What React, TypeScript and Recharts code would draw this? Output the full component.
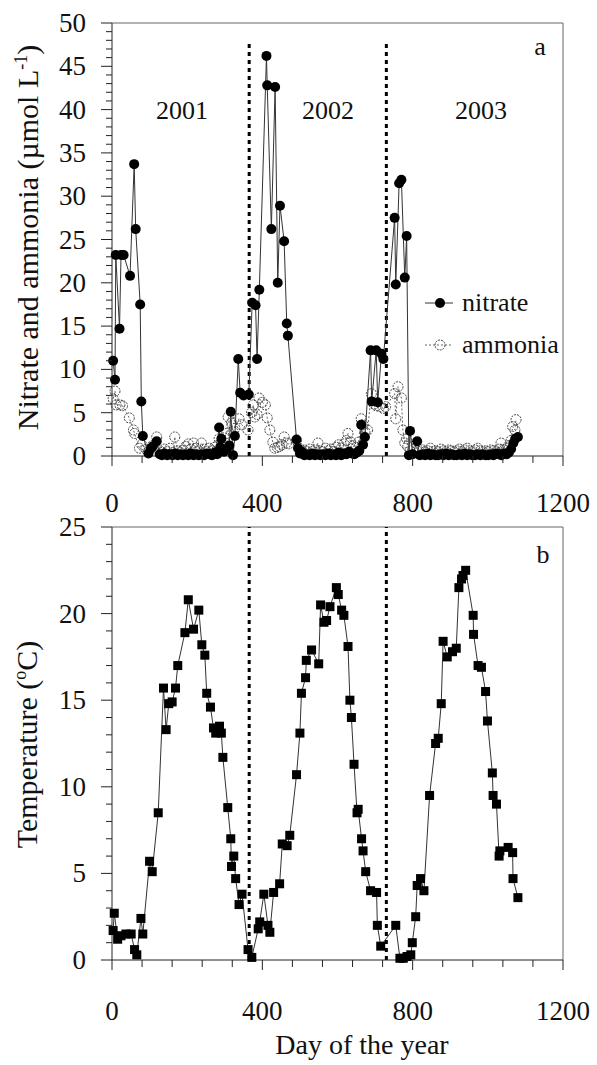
import React from 'react';
import { LineChart, Line, XAxis, YAxis, ReferenceLine, Legend } from 'recharts';

const FONT = '"Liberation Serif", "Times New Roman", serif';

// [day, µmol/L]
const nitratePoints: [number, number][] = [
  [3, 11.0], [8, 8.8], [10, 23.2], [20, 14.7], [24, 23.2], [31, 23.2], [48, 20.8], [59, 33.7],
  [63, 26.2], [75, 17.5], [78, 6.3], [82, 2.3], [97, 0.3], [104, 0.9], [108, 1.1], [119, 1.7],
  [127, 0.2], [133, 0.1], [140, 0.3], [147, 0.1], [154, 0.2], [161, 0.1], [168, 0.3], [175, 0.1],
  [182, 0.2], [189, 0.1], [196, 0.2], [203, 0.1], [210, 0.3], [217, 0.1], [224, 0.2], [231, 0.1],
  [238, 0.2], [245, 0.1], [252, 0.3], [259, 0.2], [266, 0.1], [273, 0.4], [280, 0.2], [285, 3.3],
  [288, 1.0], [291, 2.0], [298, 0.5], [305, 0.8], [312, 1.2], [316, 5.1], [322, 0.1], [327, 2.3],
  [336, 11.2], [341, 7.3], [350, 7.0], [364, 7.1], [373, 17.7], [382, 17.4], [386, 11.2], [392, 19.2],
  [411, 46.2], [413, 42.8], [424, 26.2], [434, 42.6], [441, 20.0], [447, 28.9], [458, 24.8], [465, 15.3],
  [468, 13.9], [491, 1.9], [495, 0.9], [500, 0.3], [505, 0.5], [512, 0.1], [519, 0.2], [526, 0.1],
  [533, 0.3], [540, 0.1], [547, 0.2], [554, 0.1], [561, 0.2], [568, 0.1], [575, 0.3], [582, 0.1],
  [589, 0.2], [596, 0.1], [603, 0.4], [610, 0.1], [617, 0.3], [624, 0.2], [631, 0.5], [638, 0.3],
  [645, 0.2], [652, 0.4], [658, 0.6], [663, 3.6], [668, 1.3], [673, 2.2], [688, 12.2], [691, 6.3],
  [703, 12.2], [707, 6.2], [717, 11.8], [722, 11.2], [752, 27.5], [755, 19.8], [764, 31.5], [770, 31.9],
  [779, 20.6], [784, 25.4], [790, 0.1], [793, 2.9], [800, 0.2], [812, 1.7], [819, 0.1], [826, 0.2],
  [833, 0.1], [840, 0.3], [847, 0.1], [854, 0.2], [861, 0.1], [868, 0.1], [875, 0.2], [882, 0.1],
  [889, 0.3], [896, 0.1], [903, 0.2], [910, 0.1], [917, 0.1], [924, 0.2], [931, 0.1], [938, 0.3],
  [945, 0.1], [952, 0.2], [959, 0.1], [966, 0.1], [973, 0.2], [980, 0.1], [987, 0.2], [994, 0.1],
  [1001, 0.1], [1008, 0.2], [1015, 0.1], [1022, 0.3], [1029, 0.2], [1036, 0.1], [1043, 0.3], [1050, 0.2],
  [1056, 0.4], [1062, 0.8], [1068, 1.5], [1073, 2.0], [1080, 2.2],
];

const ammoniaPoints: [number, number][] = [
  [3, 6.6], [8, 7.5], [11, 5.9], [21, 5.9], [28, 5.8], [46, 4.4], [57, 3.0], [60, 2.6],
  [73, 0.9], [79, 1.3], [90, 0.8], [97, 0.5], [108, 1.2], [119, 2.2], [127, 0.6], [133, 0.4],
  [140, 0.8], [147, 0.5], [154, 0.9], [161, 0.4], [167, 2.2], [175, 0.6], [182, 0.4], [189, 0.7],
  [196, 1.1], [203, 1.4], [210, 0.8], [217, 1.5], [224, 0.9], [231, 0.6], [238, 1.5], [245, 0.8],
  [252, 0.5], [259, 0.9], [266, 0.6], [273, 1.0], [280, 1.2], [285, 2.0], [291, 1.5], [298, 2.1],
  [305, 2.6], [309, 4.5], [318, 3.8], [322, 2.8], [327, 3.2], [338, 4.3], [345, 3.6], [362, 3.0],
  [371, 5.0], [376, 5.9], [380, 4.5], [386, 4.8], [391, 6.7], [400, 6.2], [408, 5.9], [413, 4.4],
  [420, 3.0], [428, 1.6], [433, 0.9], [440, 1.0], [446, 1.1], [452, 1.3], [458, 2.2], [464, 1.5],
  [470, 1.4], [491, 1.8], [498, 0.9], [505, 0.6], [512, 0.7], [519, 0.5], [526, 0.8], [533, 0.5],
  [540, 0.7], [548, 1.5], [554, 0.6], [561, 0.5], [568, 0.9], [575, 0.6], [582, 0.8], [589, 0.5],
  [596, 1.0], [603, 1.3], [610, 0.9], [617, 1.4], [624, 1.8], [628, 2.6], [635, 1.6], [642, 1.2],
  [649, 1.0], [656, 1.6], [663, 4.3], [668, 3.6], [673, 2.8], [680, 3.0], [690, 7.2], [697, 6.0],
  [703, 5.8], [712, 5.7], [722, 5.5], [728, 5.7], [752, 7.2], [755, 4.3], [761, 8.0], [770, 6.7],
  [774, 3.0], [779, 1.5], [784, 2.0], [787, 1.1], [793, 0.6], [800, 0.7], [812, 0.6], [819, 0.5],
  [826, 0.7], [833, 0.5], [840, 0.6], [847, 0.9], [854, 0.5], [861, 0.6], [868, 0.5], [875, 0.8],
  [882, 0.6], [889, 0.5], [896, 0.7], [903, 0.6], [910, 0.5], [917, 0.6], [924, 0.8], [931, 0.5],
  [938, 0.7], [945, 0.9], [952, 0.6], [959, 0.5], [966, 0.7], [973, 0.9], [980, 0.6], [987, 0.5],
  [994, 0.6], [1001, 0.5], [1008, 0.7], [1015, 0.6], [1022, 0.5], [1029, 0.8], [1035, 1.5], [1043, 0.7],
  [1050, 0.9], [1056, 1.2], [1062, 1.8], [1066, 3.4], [1072, 3.0], [1075, 4.2],
];

// [day, °C]
const temperaturePoints: [number, number][] = [
  [3, 1.7], [6, 2.7], [15, 1.2], [24, 1.4], [37, 1.5], [51, 1.5], [60, 0.6], [66, 0.3],
  [77, 2.4], [82, 1.5], [100, 5.7], [107, 5.1], [123, 8.5], [137, 15.7], [144, 13.3], [151, 14.8],
  [160, 14.9], [169, 15.7], [175, 17.0], [194, 18.9], [203, 20.8], [217, 19.1], [231, 20.2], [239, 18.2],
  [247, 17.6], [252, 15.4], [262, 14.6], [270, 13.4], [276, 13.1], [286, 13.5], [291, 13.1], [295, 11.7],
  [308, 8.8], [316, 7.0], [318, 5.4], [324, 6.0], [329, 4.7], [338, 3.2], [346, 3.8], [362, 0.6],
  [372, 0.15], [389, 1.8], [393, 2.2], [404, 3.8], [415, 2.0], [420, 1.6], [430, 3.9], [446, 4.4],
  [453, 6.7], [466, 6.6], [473, 7.2], [491, 10.7], [500, 13.1], [504, 15.4], [515, 16.3], [517, 17.3],
  [531, 17.9], [550, 17.1], [555, 20.5], [564, 19.5], [571, 19.6], [580, 20.4], [597, 21.5], [602, 21.1],
  [611, 20.2], [617, 19.9], [628, 18.1], [633, 15.0], [637, 14.0], [644, 11.3], [652, 8.5], [655, 8.7],
  [664, 7.0], [668, 6.3], [675, 5.1], [688, 4.0], [704, 3.9], [706, 2.0], [715, 0.8], [755, 2.0],
  [766, 0.1], [775, 0.1], [785, 0.2], [795, 0.3], [799, 1.0], [808, 2.5], [812, 4.3], [821, 4.7],
  [830, 4.0], [845, 9.5], [861, 12.5], [868, 12.8], [876, 14.8], [881, 18.4], [892, 17.5], [906, 17.8],
  [916, 18.0], [923, 21.5], [930, 22.0], [934, 22.2], [941, 22.5], [961, 19.9], [962, 18.8], [974, 17.0],
  [983, 16.9], [994, 15.5], [999, 13.8], [1012, 10.8], [1014, 9.5], [1023, 9.0], [1030, 6.0], [1032, 6.3],
  [1054, 6.5], [1066, 6.2], [1067, 4.7], [1080, 3.6],
];

const yearBreaks = [365, 730];
const yearLabels = ['2001', '2002', '2003'];
const dayLabels = [0, 400, 800, 1200];
const dayTicks = Array.from({ length: 16 }, (_, i) => i * 80);
const nutrientTicks = Array.from({ length: 51 }, (_, i) => i);
const tempTicks = Array.from({ length: 26 }, (_, i) => i);

const toRows = (pts: [number, number][]) => pts.map(([day, value]) => ({ day, value }));
const nitrateData = toRows(nitratePoints);
const ammoniaData = toRows(ammoniaPoints);
const temperatureData = toRows(temperaturePoints);

function YTick({ x, y, payload }: any) {
  const v = payload.value;
  const major = v % 5 === 0;
  return (
    <g>
      <line x1={x - (major ? 11 : 6)} x2={x} y1={y} y2={y} stroke="#222" strokeWidth={1} />
      {major && (
        <text x={x - 26} y={y + 9} textAnchor="end" fontSize={27} fontFamily={FONT} fill="#111">
          {v}
        </text>
      )}
    </g>
  );
}

function makeXTick(labelDy: number) {
  return function XTick({ x, y, payload }: any) {
    const v = payload.value;
    const major = dayLabels.includes(v);
    return (
      <g>
        <line x1={x} x2={x} y1={y} y2={y + (major ? 10 : 7)} stroke="#222" strokeWidth={1} />
        {major && (
          <text x={x} y={y + labelDy} textAnchor="middle" fontSize={27} fontFamily={FONT} fill="#111">
            {v}
          </text>
        )}
      </g>
    );
  };
}

function NutrientTitle({ viewBox }: any) {
  const cx = 38;
  const cy = viewBox.y + viewBox.height / 2 - 2;
  return (
    <text x={cx} y={cy} transform={`rotate(-90 ${cx} ${cy})`} textAnchor="middle" fontSize={30} fontFamily={FONT} fill="#111">
      Nitrate and ammonia (µmol L<tspan dy={-11} fontSize={18}>-1</tspan><tspan dy={11}>)</tspan>
    </text>
  );
}

function TempTitle({ viewBox }: any) {
  const cx = 37;
  const cy = viewBox.y + viewBox.height / 2 + 1;
  return (
    <text x={cx} y={cy} transform={`rotate(-90 ${cx} ${cy})`} textAnchor="middle" fontSize={30} fontFamily={FONT} fill="#111">
      Temperature (<tspan dy={-11} fontSize={18}>o</tspan><tspan dy={11}>C)</tspan>
    </text>
  );
}

function DayTitle({ viewBox }: any) {
  return (
    <text x={viewBox.x + 250} y={viewBox.y + 94} textAnchor="middle" fontSize={28} fontFamily={FONT} fill="#111">
      Day of the year
    </text>
  );
}

function NutrientLegend() {
  return (
    <div style={{ fontFamily: FONT, fontSize: 26, color: '#111', lineHeight: '42px' }}>
      <div style={{ display: 'flex', alignItems: 'center', height: 42 }}>
        <svg width={37} height={20}>
          <line x1={0} x2={28} y1={10} y2={10} stroke="#333" />
          <circle cx={15} cy={10} r={5} fill="#000" />
        </svg>
        <span>nitrate</span>
      </div>
      <div style={{ display: 'flex', alignItems: 'center', height: 42 }}>
        <svg width={37} height={20}>
          <line x1={0} x2={28} y1={10} y2={10} stroke="#666" strokeDasharray="2 2" />
          <circle cx={15} cy={10} r={5} fill="none" stroke="#444" strokeDasharray="2 1" />
        </svg>
        <span>ammonia</span>
      </div>
    </div>
  );
}

const filledDot = (p: any) => (
  <circle key={`n${p.index}`} cx={p.cx} cy={p.cy} r={5} fill="#000" />
);
const openDot = (p: any) => (
  <circle key={`a${p.index}`} cx={p.cx} cy={p.cy} r={5} fill="none" stroke="#444" strokeWidth={1} strokeDasharray="2 1" />
);
const squareDot = (p: any) => (
  <rect key={`t${p.index}`} x={p.cx - 4.5} y={p.cy - 4.5} width={9} height={9} fill="#000" />
);

export default function App() {
  return (
    <div style={{ position: 'absolute', left: 0, top: 0, width: 597, height: 1065, background: '#fff' }}>
      <div style={{ position: 'absolute', left: 0, top: 0 }}>
        <LineChart width={597} height={520} margin={{ top: 23, right: 34, left: 0, bottom: 0 }}>
          <XAxis
            type="number"
            dataKey="day"
            domain={[0, 1200]}
            ticks={dayTicks}
            tickSize={0}
            tickMargin={0}
            tickLine={false}
            tick={makeXTick(56)}
            height={64}
            stroke="#222"
            interval={0}
          />
          <YAxis
            domain={[0, 50]}
            ticks={nutrientTicks}
            tickSize={0}
            tickMargin={0}
            tickLine={false}
            tick={<YTick />}
            width={112}
            stroke="#222"
            interval={0}
            label={{ content: (p: any) => <NutrientTitle viewBox={p.viewBox} /> }}
          />
          <ReferenceLine y={50} stroke="#666" />
          <ReferenceLine x={1200} stroke="#666" />
          {yearBreaks.map((d) => (
            <ReferenceLine
              key={d}
              segment={[{ x: d, y: 0 }, { x: d, y: 48 }]}
              stroke="#000"
              strokeWidth={3}
              strokeDasharray="4 4"
            />
          ))}
          <Line
            data={ammoniaData}
            dataKey="value"
            stroke="#666"
            strokeWidth={1}
            strokeDasharray="2 2"
            dot={openDot}
            activeDot={false}
            isAnimationActive={false}
          />
          <Line
            data={nitrateData}
            dataKey="value"
            stroke="#333"
            strokeWidth={1}
            dot={filledDot}
            activeDot={false}
            isAnimationActive={false}
          />
          <Legend
            layout="vertical"
            align="center"
            verticalAlign="middle"
            content={() => <NutrientLegend />}
            wrapperStyle={{ position: 'absolute', left: 425, top: 282, width: 160 }}
          />
        </LineChart>
      </div>
      <div style={{ position: 'absolute', left: 0, top: 500 }}>
        <LineChart width={597} height={565} margin={{ top: 27, right: 34, left: 0, bottom: 0 }}>
          <XAxis
            type="number"
            dataKey="day"
            domain={[0, 1200]}
            ticks={dayTicks}
            tickSize={0}
            tickMargin={0}
            tickLine={false}
            tick={makeXTick(60)}
            height={105}
            stroke="#222"
            interval={0}
            label={{ content: (p: any) => <DayTitle viewBox={p.viewBox} /> }}
          />
          <YAxis
            domain={[0, 25]}
            ticks={tempTicks}
            tickSize={0}
            tickMargin={0}
            tickLine={false}
            tick={<YTick />}
            width={112}
            stroke="#222"
            interval={0}
            label={{ content: (p: any) => <TempTitle viewBox={p.viewBox} /> }}
          />
          <ReferenceLine y={25} stroke="#666" />
          <ReferenceLine x={1200} stroke="#666" />
          {yearBreaks.map((d) => (
            <ReferenceLine key={d} x={d} stroke="#000" strokeWidth={3} strokeDasharray="4 4" />
          ))}
          <Line
            data={temperatureData}
            dataKey="value"
            stroke="#333"
            strokeWidth={1}
            dot={squareDot}
            activeDot={false}
            isAnimationActive={false}
          />
        </LineChart>
      </div>
      <svg width={597} height={1065} style={{ position: 'absolute', left: 0, top: 0, pointerEvents: 'none' }}>
        <g fontFamily={FONT} fontSize={26} fill="#111" textAnchor="middle">
          <text x={182} y={119}>{yearLabels[0]}</text>
          <text x={328} y={119}>{yearLabels[1]}</text>
          <text x={481} y={119}>{yearLabels[2]}</text>
          <text x={540} y={55}>a</text>
          <text x={543} y={563}>b</text>
        </g>
      </svg>
    </div>
  );
}
